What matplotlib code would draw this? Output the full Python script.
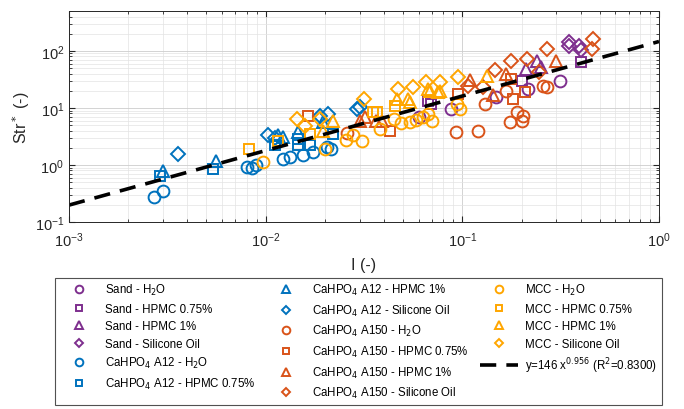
import matplotlib
matplotlib.use("Agg")
import matplotlib.pyplot as plt
import numpy as np

plt.rcParams['font.family'] = ['Liberation Sans', 'DejaVu Sans']

# ---- data ----
sand_h2o_x = [0.060, 0.088, 0.149, 0.216, 0.315]
sand_h2o_y = [6.9, 9.6, 15.4, 21.5, 30]
sand_hpmc075_x = [0.067, 0.069, 0.20, 0.40]
sand_hpmc075_y = [13.4, 11.7, 30, 63]
sand_hpmc1_x = [0.21, 0.24, 0.25]
sand_hpmc1_y = [48, 67, 52]
sand_oil_x = [0.35, 0.39, 0.35, 0.40]
sand_oil_y = [145, 120, 120, 105]

a12_h2o_x = [0.0027, 0.0030, 0.0080, 0.0085, 0.0089, 0.01225, 0.0133, 0.0155, 0.0174, 0.0205, 0.0216]
a12_h2o_y = [0.275, 0.35, 0.92, 0.90, 1.0, 1.27, 1.4, 1.5, 1.7, 2.1, 1.9]
a12_hpmc075_x = [0.0029, 0.0054, 0.0111, 0.0146, 0.0146, 0.0168, 0.022]
a12_hpmc075_y = [0.65, 0.85, 2.2, 2.8, 2.2, 2.2, 3.5]
a12_hpmc1_x = [0.0030, 0.0056, 0.0115, 0.0123, 0.0146, 0.0196]
a12_hpmc1_y = [0.79, 1.19, 3.3, 3.1, 3.8, 5.6]
a12_oil_x = [0.0036, 0.0103, 0.0111, 0.0189, 0.0207, 0.029, 0.030]
a12_oil_y = [1.56, 3.3, 3.0, 7.3, 7.8, 9.6, 10.3]

a150_h2o_x = [0.0258, 0.093, 0.12, 0.13, 0.167, 0.175, 0.189, 0.20, 0.203, 0.258, 0.268]
a150_h2o_y = [3.7, 3.8, 4.0, 11.7, 20, 5.6, 8.4, 6.0, 7.3, 24.5, 23]
a150_hpmc075_x = [0.0165, 0.0430, 0.0956, 0.177, 0.181, 0.208]
a150_hpmc075_y = [7.3, 3.9, 17.7, 32, 14.4, 18.8]
a150_hpmc1_x = [0.030, 0.032, 0.0365, 0.039, 0.110, 0.143, 0.167, 0.298]
a150_hpmc1_y = [6.0, 6.9, 6.0, 6.0, 31, 17.0, 40, 67]
a150_oil_x = [0.107, 0.128, 0.146, 0.176, 0.212, 0.246, 0.27, 0.458, 0.46]
a150_oil_y = [24.5, 23, 46, 67, 72, 42, 109, 109, 161]

mcc_h2o_x = [0.0097, 0.020, 0.0255, 0.0277, 0.031, 0.038, 0.045, 0.049, 0.054, 0.058, 0.063, 0.067, 0.070, 0.094, 0.097]
mcc_h2o_y = [1.12, 1.87, 2.7, 3.3, 2.6, 4.3, 6.5, 5.4, 5.6, 6.2, 6.8, 7.8, 6.0, 11.7, 9.6]
mcc_hpmc075_x = [0.0082, 0.0116, 0.0168, 0.035, 0.037, 0.0453]
mcc_hpmc075_y = [1.87, 2.6, 3.5, 8.4, 8.6, 10.9]
mcc_hpmc1_x = [0.0196, 0.022, 0.0465, 0.053, 0.054, 0.0667, 0.0685, 0.075, 0.077, 0.133]
mcc_hpmc1_y = [4.0, 6.0, 14.4, 14.4, 12.5, 21.5, 20, 18.8, 20, 37]
mcc_oil_x = [0.0144, 0.0158, 0.0189, 0.0316, 0.047, 0.056, 0.065, 0.077, 0.095]
mcc_oil_y = [6.4, 4.9, 6.4, 14.4, 21.5, 23, 28, 28, 34.6]

fit_a = 146
fit_b = 0.956
fit_label = 'y=146 x$^{0.956}$ (R$^2$=0.8300)'

# ---- styling ----
c_sand = '#7E2F8E'
c_a12 = '#0072BD'
c_a150 = '#D95319'
c_mcc = '#FFA600'

series = [
    (sand_h2o_x, sand_h2o_y, 'o', c_sand, 'Sand - H$_2$O'),
    (sand_hpmc075_x, sand_hpmc075_y, 's', c_sand, 'Sand - HPMC 0.75%'),
    (sand_hpmc1_x, sand_hpmc1_y, '^', c_sand, 'Sand - HPMC 1%'),
    (sand_oil_x, sand_oil_y, 'D', c_sand, 'Sand - Silicone Oil'),
    (a12_h2o_x, a12_h2o_y, 'o', c_a12, 'CaHPO$_4$ A12 - H$_2$O'),
    (a12_hpmc075_x, a12_hpmc075_y, 's', c_a12, 'CaHPO$_4$ A12 - HPMC 0.75%'),
    (a12_hpmc1_x, a12_hpmc1_y, '^', c_a12, 'CaHPO$_4$ A12 - HPMC 1%'),
    (a12_oil_x, a12_oil_y, 'D', c_a12, 'CaHPO$_4$ A12 - Silicone Oil'),
    (a150_h2o_x, a150_h2o_y, 'o', c_a150, 'CaHPO$_4$ A150 - H$_2$O'),
    (a150_hpmc075_x, a150_hpmc075_y, 's', c_a150, 'CaHPO$_4$ A150 - HPMC 0.75%'),
    (a150_hpmc1_x, a150_hpmc1_y, '^', c_a150, 'CaHPO$_4$ A150 - HPMC 1%'),
    (a150_oil_x, a150_oil_y, 'D', c_a150, 'CaHPO$_4$ A150 - Silicone Oil'),
    (mcc_h2o_x, mcc_h2o_y, 'o', c_mcc, 'MCC - H$_2$O'),
    (mcc_hpmc075_x, mcc_hpmc075_y, 's', c_mcc, 'MCC - HPMC 0.75%'),
    (mcc_hpmc1_x, mcc_hpmc1_y, '^', c_mcc, 'MCC - HPMC 1%'),
    (mcc_oil_x, mcc_oil_y, 'D', c_mcc, 'MCC - Silicone Oil'),
]

fig = plt.figure(figsize=(6.84, 4.10), dpi=100)
ax = fig.add_axes([69/684, 1-223/410, (659-69)/684, (223-12)/410])

sizes = {'o': 8.5, 's': 7.5, '^': 8.5, 'D': 7.0}
for x, y, m, c, lab in series:
    ax.plot(x, y, linestyle='none', marker=m, markersize=sizes[m],
            markerfacecolor='none', markeredgecolor=c, markeredgewidth=1.4,
            label=lab)

xf = np.logspace(-3, 0, 200)
ax.plot(xf, fit_a * xf ** fit_b, color='black', linestyle=(0, (4.5, 2.8)),
        linewidth=2.6, label=fit_label)

ax.set_xscale('log')
ax.set_yscale('log')
ax.set_xlim(1e-3, 1)
ax.set_ylim(0.1, 500)
ax.grid(True, which='major', color='#cccccc', linewidth=0.6)
ax.grid(True, which='minor', color='#e3e3e3', linewidth=0.5)
ax.tick_params(which='both', direction='in', top=True, right=True, colors='#262626',
               labelsize=10.5)
ax.tick_params(axis='x', which='major', pad=6)
ax.tick_params(which='major', length=4)
ax.tick_params(which='minor', length=2)
for s in ax.spines.values():
    s.set_color('#262626')
    s.set_linewidth(0.7)
ax.set_xlabel('I (-)', fontsize=11.5, color='#262626', labelpad=6)
ax.set_ylabel('Str$^*$ (-)', fontsize=11.5, color='#262626', labelpad=2)

handles, labels = ax.get_legend_handles_labels()
leg = fig.legend(handles, labels, ncol=3, loc='lower center',
                 bbox_to_anchor=(358.5/684, 1-406/410), fontsize=8.3,
                 frameon=True, fancybox=False, edgecolor='#262626',
                 handlelength=3.3, handletextpad=0.6, columnspacing=1.0,
                 labelspacing=0.48, markerscale=0.65, borderpad=0.4,
                 borderaxespad=0)
leg.get_frame().set_linewidth(0.8)

fig.savefig('out.png', dpi=100)
